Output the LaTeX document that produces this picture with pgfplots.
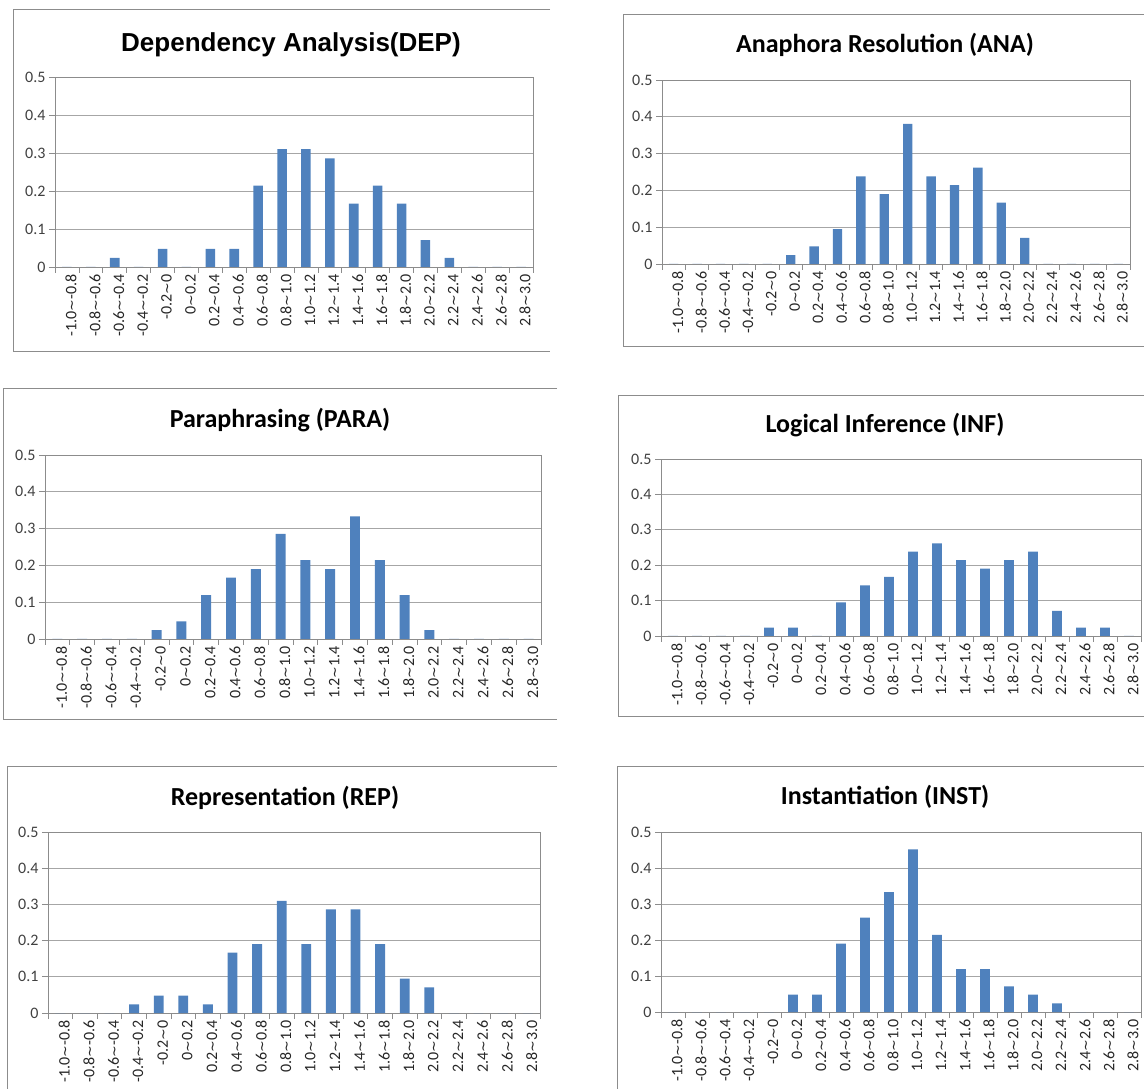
\documentclass[border=0pt]{standalone}
\usepackage{fontspec}
\setmainfont{Carlito}
\newfontfamily\arialfont{Liberation Sans}
\newfontfamily\dejavu{DejaVu Sans}
\usepackage{pgfplots}
\usepackage{pgfplotstable}
\pgfplotsset{compat=1.18}

\definecolor{barblue}{HTML}{4F81BD}
\definecolor{framegray}{HTML}{8C8C8C}
\definecolor{gridgray}{HTML}{A6A6A6}

% share of items per score bin (bins of 0.2 from -1.0 to 3.0)
\pgfplotstableread{
bin dep   ana   para  inf   rep   inst
0   0     0     0     0     0     0
1   0     0     0     0     0     0
2   0.024 0     0     0     0     0
3   0     0     0     0     0.024 0
4   0.048 0     0.024 0.024 0.048 0
5   0     0.024 0.048 0.024 0.048 0.048
6   0.048 0.048 0.119 0     0.024 0.048
7   0.048 0.095 0.167 0.095 0.167 0.190
8   0.214 0.238 0.190 0.143 0.190 0.262
9   0.310 0.190 0.286 0.167 0.310 0.333
10  0.310 0.381 0.214 0.238 0.190 0.452
11  0.286 0.238 0.190 0.262 0.286 0.214
12  0.167 0.214 0.333 0.214 0.286 0.119
13  0.214 0.262 0.214 0.190 0.190 0.119
14  0.167 0.167 0.119 0.214 0.095 0.071
15  0.071 0.071 0.024 0.238 0.071 0.048
16  0.024 0     0     0.071 0     0.024
17  0     0     0     0.024 0     0
18  0     0     0     0.024 0     0
19  0     0     0     0     0     0
}\bins

\newcommand{\tl}[2]{#1{\dejavu\fontsize{14}{16}\selectfont\textasciitilde}#2}

\pgfplotsset{
  panel/.style={
    scale only axis,
    anchor=south west,
    ybar, bar width=0.4,
    xmin=-0.5, xmax=19.5, ymin=0, ymax=0.5,
    axis line style={framegray, line width=0.8pt},
    ytick={0,0.1,...,0.5},
    yticklabels={0,0.1,0.2,0.3,0.4,0.5},
    ymajorgrids, major grid style={gridgray, line width=0.8pt},
    tick align=outside,
    xtick pos=bottom, ytick pos=left,
    major tick length=6pt,
    tick style={framegray, line width=0.8pt},
    xtick={-0.5,0.5,...,19.5},
    x tick label as interval,
    xticklabels={\tl{-1.0}{-0.8},\tl{-0.8}{-0.6},\tl{-0.6}{-0.4},\tl{-0.4}{-0.2},
      \tl{-0.2}{0},\tl{0}{0.2},\tl{0.2}{0.4},\tl{0.4}{0.6},\tl{0.6}{0.8},
      \tl{0.8}{1.0},\tl{1.0}{1.2},\tl{1.2}{1.4},\tl{1.4}{1.6},\tl{1.6}{1.8},
      \tl{1.8}{2.0},\tl{2.0}{2.2},\tl{2.2}{2.4},\tl{2.4}{2.6},\tl{2.6}{2.8},
      \tl{2.8}{3.0},{}},
    xticklabel style={rotate=90, anchor=east, font=\fontsize{16}{18}\selectfont, text=black!85, inner sep=1pt, yshift=-4pt},
    yticklabel style={font=\fontsize{16}{18}\selectfont, text=black!75},
  },
  bars/.style={fill=barblue, draw=none},
}

\begin{document}
\begin{tikzpicture}[x=1pt,y=1pt]
\useasboundingbox (0,0) rectangle (1144,1088);

% panel frames
\draw[framegray, line width=1pt] (550,1078) -- (13,1078) -- (13,736) -- (550,736);
\draw[framegray, line width=1pt] (1150,1073) -- (623,1073) -- (623,741) -- (1150,741);
\draw[framegray, line width=1pt] (557,699) -- (3,699) -- (3,368) -- (557,368);
\draw[framegray, line width=1pt] (1150,692) -- (618,692) -- (618,371) -- (1150,371);
\draw[framegray, line width=1pt] (557,321) -- (7,321) -- (7,-5);
\draw[framegray, line width=1pt] (1150,321) -- (617,321) -- (617,-5);

% titles
\node[font=\arialfont\bfseries\fontsize{26}{30}\selectfont] at (291,1043) {Dependency Analysis(DEP)};
\node[font=\bfseries\fontsize{26}{30}\selectfont] at (885,1043) {Anaphora Resolution (ANA)};
\node[font=\bfseries\fontsize{26}{30}\selectfont] at (280,668) {Paraphrasing (PARA)};
\node[font=\bfseries\fontsize{26}{30}\selectfont] at (885,663) {Logical Inference (INF)};
\node[font=\bfseries\fontsize{26}{30}\selectfont] at (285,290) {Representation (REP)};
\node[font=\bfseries\fontsize{26}{30}\selectfont] at (885,291) {Instantiation (INST)};

\begin{axis}[panel, at={(55pt,821pt)}, width=478pt, height=190pt]
  \addplot[bars] table[x=bin, y=dep] {\bins};
\end{axis}

\begin{axis}[panel, at={(662pt,824pt)}, width=468pt, height=184pt]
  \addplot[bars] table[x=bin, y=ana] {\bins};
\end{axis}

\begin{axis}[panel, at={(45pt,449pt)}, width=496pt, height=184pt]
  \addplot[bars] table[x=bin, y=para] {\bins};
\end{axis}

\begin{axis}[panel, at={(661pt,452pt)}, width=480pt, height=177pt]
  \addplot[bars] table[x=bin, y=inf] {\bins};
\end{axis}

\begin{axis}[panel, at={(48pt,75pt)}, width=492pt, height=181pt]
  \addplot[bars] table[x=bin, y=rep] {\bins};
\end{axis}

\begin{axis}[panel, at={(661pt,76pt)}, width=480pt, height=180pt]
  \addplot[bars] table[x=bin, y=inst] {\bins};
\end{axis}
\end{tikzpicture}
\end{document}
